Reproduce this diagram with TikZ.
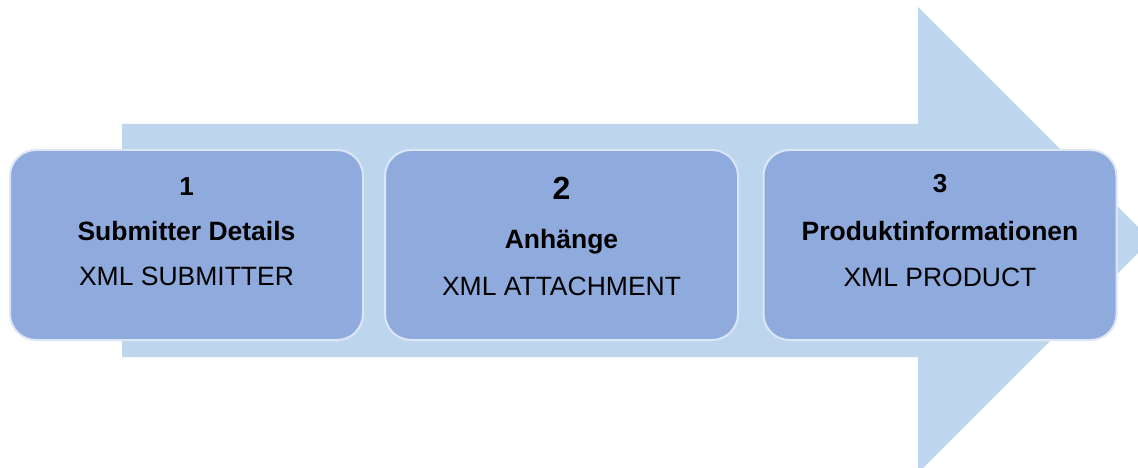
\documentclass[tikz,border=0pt]{standalone}
\usepackage{fontspec}
\setmainfont{Liberation Sans}
\definecolor{arrowfill}{RGB}{189,214,238}
\definecolor{boxfill}{RGB}{143,170,220}
\definecolor{boxline}{RGB}{220,230,245}
\tikzset{
  stepbox/.style={draw=boxline, line width=2pt, fill=boxfill, rounded corners=26pt,
    minimum width=353pt, minimum height=190pt, inner sep=0pt},
  numtxt/.style={anchor=base, inner sep=0pt, font=\fontsize{26}{30}\selectfont\bfseries},
  bignum/.style={anchor=base, inner sep=0pt, font=\fontsize{32}{36}\selectfont\bfseries},
  titletxt/.style={anchor=base, inner sep=0pt, font=\fontsize{26.5}{30}\selectfont\bfseries},
  subtxt/.style={anchor=base, inner sep=0pt, font=\fontsize{26.5}{30}\selectfont},
}
\begin{document}
\begin{tikzpicture}[x=1pt, y=-1pt]
\useasboundingbox (0,0) rectangle (1138,468);
\clip (0,0) rectangle (1138,468);
% big arrow
\fill[arrowfill] (122,124) -- (918,124) -- (918,7) -- (1151,240) -- (918,473) -- (918,357) -- (122,357) -- cycle;
% boxes
\node[stepbox] (b1) at (186.5,245) {};
\node[stepbox] (b2) at (561.5,245) {};
\node[stepbox] (b3) at (940,245) {};
% texts box 1
\node[numtxt] (n1) at (186.5,195) {1};
\node[titletxt] (t1) at (186.5,240) {Submitter Details};
\node[subtxt] (s1) at (186.5,285) {XML SUBMITTER};
% texts box 2
\node[bignum] (n2) at (561.5,200) {2};
\node[titletxt] (t2) at (561.5,248) {Anhänge};
\node[subtxt] (s2) at (561.5,295) {XML ATTACHMENT};
% texts box 3
\node[numtxt] (n3) at (940,193) {3};
\node[titletxt] (t3) at (940,240) {Produktinformationen};
\node[subtxt] (s3) at (940,286) {XML PRODUCT};
\end{tikzpicture}
\end{document}
